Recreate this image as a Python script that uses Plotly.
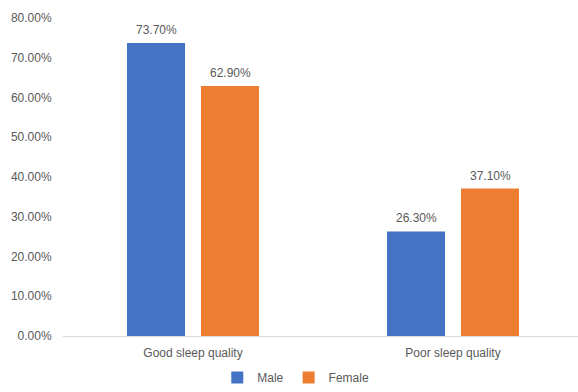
import plotly.graph_objects as go

categories = ["Good sleep quality", "Poor sleep quality"]
male = [73.7, 26.3]
female = [62.9, 37.1]
series_names = ["Male", "Female"]
y_ticks = [0, 10, 20, 30, 40, 50, 60, 70, 80]
y_tick_labels = [f"{v:.2f}%" for v in y_ticks]

colors = ["#4472C4", "#ED7D31"]
font_family = "Liberation Sans, Arial, sans-serif"
text_color = "#595959"

fig = go.Figure()
for name, vals, col in zip(series_names, [male, female], colors):
    fig.add_trace(go.Bar(
        x=categories, y=vals, name=name,
        marker=dict(color=col, line=dict(width=0)),
    ))

# data labels above each bar
offsets = [-37, 37]
for vals, off in zip([male, female], offsets):
    for c, v in zip(categories, vals):
        fig.add_annotation(
            x=c, y=v, text=f"{v:.2f}%", showarrow=False,
            xshift=off, yshift=13, yanchor="middle",
            font=dict(family=font_family, size=12, color=text_color),
        )

fig.update_layout(
    width=578, height=392,
    margin=dict(l=63, r=0, t=18, b=54),
    paper_bgcolor="white", plot_bgcolor="white",
    barmode="group", bargap=0.431, bargroupgap=0.216,
    font=dict(family=font_family, size=12, color=text_color),
    showlegend=True,
    legend=dict(orientation="h", x=0.452, xanchor="center", y=-0.131, yanchor="middle",
                font=dict(size=12, color=text_color), itemwidth=30,
                traceorder="normal"),
    xaxis=dict(
        range=[-0.5, 1.5 - 5/260], showline=True, linecolor="#D9D9D9", linewidth=1,
        showgrid=False, ticks="outside", ticklen=6, tickcolor="rgba(0,0,0,0)",
        tickfont=dict(size=12, color=text_color),
    ),
    yaxis=dict(
        range=[0, 80], tickvals=y_ticks, ticktext=y_tick_labels,
        showgrid=False, zeroline=False, showline=False,
        ticks="outside", ticklen=8, tickcolor="rgba(0,0,0,0)",
        tickfont=dict(size=12, color=text_color),
    ),
)

fig.write_html("out.html")
